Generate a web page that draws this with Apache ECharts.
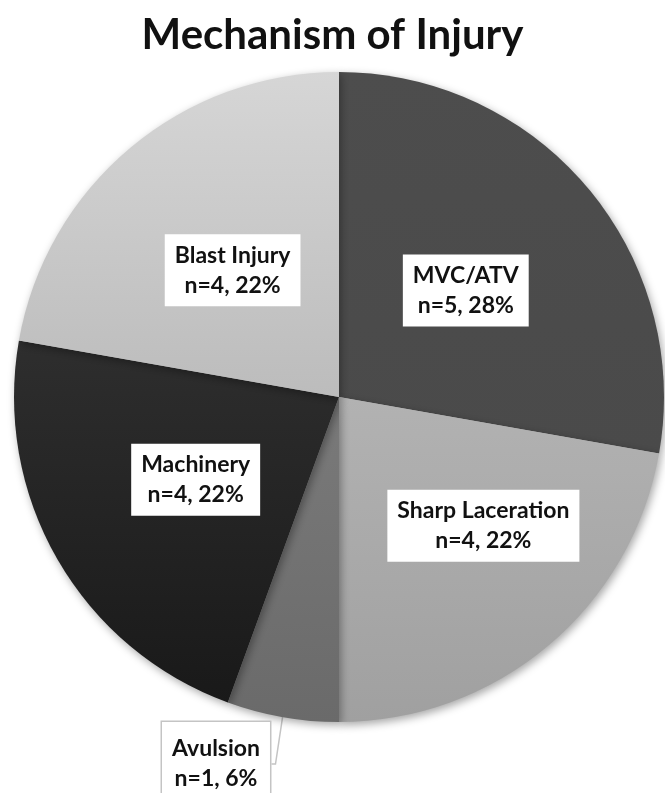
<!DOCTYPE html>
<html>
<head>
<meta charset="utf-8">
<script src="https://cdn.jsdelivr.net/npm/echarts@6/dist/echarts.min.js"></script>
<style>
  html, body { margin: 0; padding: 0; background: #ffffff; }
  #chart { width: 665px; height: 793px; }
</style>
</head>
<body>
<div id="chart"></div>
<script>
// Injury mechanisms, clockwise from 12 o'clock
const categories = ['MVC/ATV', 'Sharp Laceration', 'Avulsion', 'Machinery', 'Blast Injury'];
const counts = [5, 4, 1, 4, 4];
const percents = [28, 22, 6, 22, 22];

// Slice shading (top colour, bottom colour)
const shades = [
  ['#4d4d4d', '#4a4a4a'],
  ['#b2b2b2', '#a0a0a0'],
  ['#7a7a7a', '#6a6a6a'],
  ['#2e2e2e', '#191919'],
  ['#d6d6d6', '#bcbcbc']
];

// Extra shift for individual labels
const labelShift = [[0, 0], [38, 2], [0, 0], [0, 0], [0, 0]];

const chart = echarts.init(document.getElementById('chart'));

const boxLabel = {
  show: true,
  position: 'inner',
  formatter: p => p.name + '\n' + 'n=' + counts[p.dataIndex] + ', ' + percents[p.dataIndex] + '%',
  color: '#111111',
  fontFamily: 'Lato',
  fontWeight: 'bold',
  fontSize: 23,
  lineHeight: 30,
  align: 'center',
  backgroundColor: '#ffffff',
  padding: [7, 10, 5, 10]
};

const data = categories.map((name, i) => {
  const item = {
    name: name,
    value: counts[i],
    itemStyle: {
      color: new echarts.graphic.LinearGradient(0, 0, 0, 1, [
        { offset: 0, color: shades[i][0] },
        { offset: 1, color: shades[i][1] }
      ])
    }
  };
  if (name === 'Avulsion') {
    item.label = {
      position: 'outside',
      borderColor: '#c4c4c4',
      borderWidth: 1.5,
      padding: [10, 10, 14, 10]
    };
    item.labelLine = {
      show: true,
      length: 4,
      length2: 4,
      lineStyle: { color: '#c4c4c4', width: 1.5 }
    };
  }
  return item;
});

chart.setOption({
  title: {
    text: 'Mechanism of Injury',
    left: 'center',
    top: 9,
    textStyle: {
      fontFamily: 'Lato',
      fontWeight: 'bold',
      fontSize: 42,
      color: '#111111'
    }
  },
  series: [{
    type: 'pie',
    center: [339, 397],
    radius: [0, 325],
    startAngle: 90,
    clockwise: true,
    animation: false,
    silent: true,
    itemStyle: {
      borderWidth: 0,
      shadowBlur: 8,
      shadowColor: 'rgba(0,0,0,0.35)',
      shadowOffsetX: 2,
      shadowOffsetY: 3
    },
    label: boxLabel,
    labelLayout: function (params) {
      const i = params.dataIndex;
      if (categories[i] === 'Avulsion') {
        return { x: 216, y: 764, align: 'center', verticalAlign: 'middle' };
      }
      return { dx: labelShift[i][0], dy: labelShift[i][1] };
    },
    data: data
  }]
});
</script>
</body>
</html>
